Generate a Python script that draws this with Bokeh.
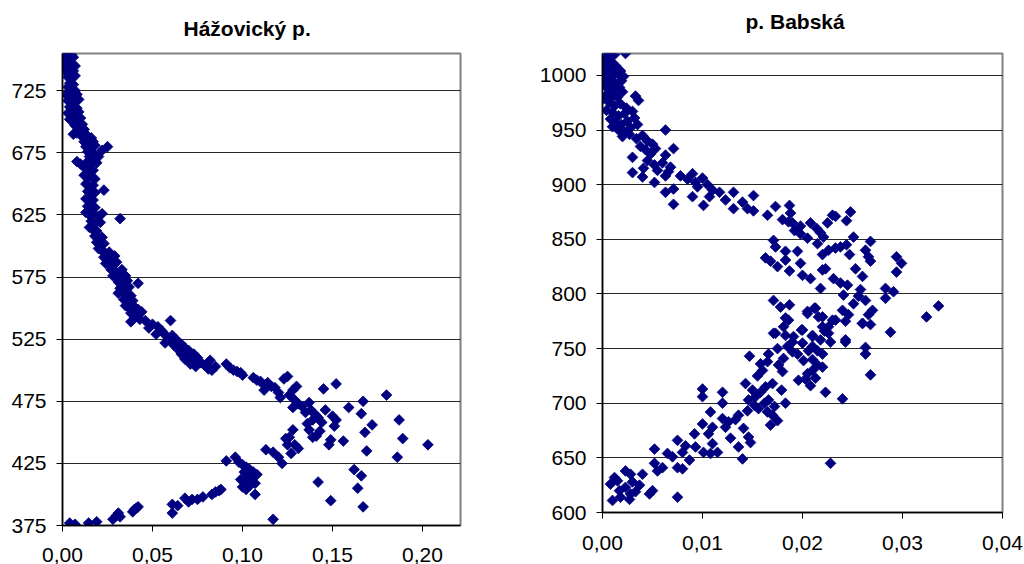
import numpy as np
from bokeh.plotting import figure
from bokeh.models import FixedTicker, Range1d, Title
from bokeh.embed import file_html
from bokeh.resources import INLINE

# ---------------- data: Hážovický p. ----------------
haz_pts = [
 (0.001,754),(0.003,754),(0.005,754),(0.002,752),(0.004,751),(0.006,752),(0.000,748),(0.002,748),(0.004,747),
 (0.001,745),(0.003,744),(0.005,743),(0.007,745),(0.002,740),(0.004,739),(0.006,741),(0.003,736),(0.005,735),
 (0.007,737),(0.004,731),(0.006,730),(0.003,728),(0.005,726),(0.007,725),(0.002,722),(0.004,721),(0.006,720),
 (0.008,722),(0.003,717),(0.005,715),(0.007,716),(0.009,718),(0.004,712),(0.006,710),(0.008,711),(0.003,707),
 (0.005,705),(0.007,706),(0.009,708),(0.004,702),(0.006,700),(0.008,701),(0.010,703),(0.007,697),(0.009,696),
 (0.011,698),(0.012,694),(0.010,693),(0.006,690),(0.008,691),(0.013,690),(0.011,688),(0.014,686),(0.016,687),
 (0.012,684),(0.015,683),(0.017,684),(0.013,680),(0.016,679),(0.018,681),(0.022,677),(0.025,680),(0.014,676),
 (0.017,675),(0.015,672),(0.018,671),(0.020,672),(0.008,668),(0.010,666),(0.014,668),(0.016,666),(0.019,667),
 (0.013,662),(0.015,660),(0.017,661),(0.012,657),(0.014,655),(0.016,656),(0.018,654),(0.013,650),(0.015,648),
 (0.017,649),(0.023,645),(0.014,644),(0.016,642),(0.018,643),(0.013,638),(0.015,636),(0.017,637),(0.014,632),
 (0.016,630),(0.018,631),(0.013,627),(0.015,625),(0.017,626),(0.020,624),(0.022,626),(0.032,622),(0.016,620),
 (0.018,618),(0.021,619),(0.015,615),(0.017,613),(0.019,612),(0.018,608),(0.020,606),(0.022,607),(0.019,603),
 (0.021,601),(0.023,602),(0.020,598),(0.022,596),(0.024,594),(0.026,595),(0.023,591),(0.025,589),(0.027,590),
 (0.029,592),(0.024,586),(0.026,585),(0.028,584),(0.030,587),(0.027,581),(0.029,580),(0.031,578),(0.033,581),
 (0.028,576),(0.030,575),(0.032,574),(0.035,576),(0.031,571),(0.033,570),(0.036,572),(0.042,570),(0.032,566),
 (0.034,565),(0.037,567),(0.031,562),(0.035,561),(0.038,560),(0.034,557),(0.036,555),(0.039,556),(0.035,552),
 (0.037,550),(0.040,551),(0.042,549),(0.038,546),(0.041,545),(0.044,547),(0.040,542),(0.043,541),(0.038,539),
 (0.046,540),(0.050,537),(0.053,535),(0.048,534),(0.055,532),(0.060,540),(0.052,529),(0.056,530),(0.058,527),
 (0.061,528),(0.057,522),(0.060,524),(0.063,525),(0.062,520),(0.066,521),(0.064,517),(0.068,518),(0.070,516),
 (0.066,513),(0.070,512),(0.073,513),(0.068,509),(0.072,508),(0.075,510),(0.077,506),(0.071,505),(0.074,503),
 (0.079,504),(0.082,508),(0.081,501),(0.083,500),(0.085,503),(0.091,505),(0.093,502),(0.095,500),(0.097,499),
 (0.099,498),(0.100,496),(0.106,494),(0.108,492),(0.110,491),(0.112,488),(0.114,490),(0.116,487),(0.112,484),
 (0.118,486),(0.120,482),(0.121,478),(0.123,493),(0.125,495),(0.126,480),(0.128,484),(0.130,487),(0.129,476),
 (0.131,473),(0.128,470),(0.133,471),(0.137,474),(0.135,466),(0.138,468),(0.140,465),(0.142,462),(0.139,460),
 (0.144,458),(0.145,485),(0.152,489),(0.146,468),(0.150,463),(0.152,460),(0.151,455),(0.159,470),(0.166,465),
 (0.167,475),(0.180,480),(0.187,460),(0.172,456),(0.168,450),(0.189,445),(0.203,440),(0.169,435),(0.186,430),
 (0.156,443),(0.149,444),(0.148,440),(0.141,447),(0.137,452),(0.139,446),(0.143,451),(0.136,457),(0.128,452),
 (0.126,446),(0.129,440),(0.131,437),(0.127,433),(0.125,440),(0.124,445),(0.113,436),(0.117,434),(0.120,430),
 (0.122,425),(0.091,427),(0.096,430),(0.098,426),(0.100,424),(0.102,422),(0.104,420),(0.106,418),(0.108,416),
 (0.101,418),(0.103,415),(0.105,413),(0.099,412),(0.101,410),(0.103,408),(0.105,411),(0.107,409),(0.100,406),
 (0.102,404),(0.104,407),(0.107,400),(0.117,380),(0.142,410),(0.149,395),(0.162,420),(0.166,415),(0.164,405),
 (0.167,390),
 (0.004,377),(0.007,376),(0.0145,377),(0.019,378),(0.028,380),(0.030,383),(0.031,385),(0.032,382),(0.039,386),
 (0.040,388),(0.041,389),(0.042,390),(0.061,385),(0.061,392),(0.064,391),(0.068,397),(0.070,394),(0.072,396),
 (0.075,396),(0.078,398),(0.083,400),(0.085,402),(0.087,403),(0.088,404),
]
haz_x = [p[0] for p in haz_pts]
haz_y = [p[1] for p in haz_pts]

# ---------------- data: p. Babská ----------------
bab_pts = [
 (0.0002,1015),(0.0005,1018),(0.0008,1020),(0.0012,1019),(0.0023,1020),
 (0.0001,1010),(0.0004,1012),(0.0007,1013),(0.001,1011),(0.0013,1009),
 (0.0002,1005),(0.0005,1006),(0.0009,1004),(0.0013,1003),(0.0018,1004),
 (0.0001,1000),(0.0004,999),(0.0008,998),(0.0011,1000),(0.0016,1001),(0.0021,999),
 (0.0002,995),(0.0006,993),(0.001,994),(0.0014,992),(0.0019,995),
 (0.0003,990),(0.0008,988),(0.0012,986),(0.0017,989),(0.002,985),
 (0.0005,983),(0.001,981),(0.0015,980),(0.0033,981),(0.0036,977),
 (0.0,978),(0.0007,975),(0.0012,972),(0.0018,974),(0.0024,970),
 (0.0004,968),(0.001,966),(0.0016,963),(0.0022,965),(0.003,967),
 (0.0008,960),(0.0013,957),(0.0019,955),(0.0025,958),(0.0032,961),
 (0.001,953),(0.0016,950),(0.0022,948),(0.0028,952),(0.0035,955),(0.0063,950),
 (0.002,944),(0.0027,946),(0.0034,942),(0.004,945),(0.0045,940),(0.005,937),
 (0.0038,935),(0.0043,932),(0.0053,933),(0.0071,933),(0.003,925),(0.0048,928),(0.0063,927),
 (0.0045,922),(0.0052,918),(0.006,920),(0.0068,916),(0.0041,915),(0.0055,913),
 (0.003,911),(0.004,907),(0.0052,902),(0.0063,908),(0.0066,912),
 (0.0063,893),(0.0071,896),(0.0071,882),(0.0078,908),(0.0085,905),(0.0093,902),
 (0.009,910),(0.0095,898),(0.01,906),(0.0105,900),(0.011,895),(0.009,889),(0.0101,881),(0.0107,889),
 (0.0117,893),(0.0123,886),(0.0131,893),(0.0131,878),(0.014,884),(0.0151,890),(0.0145,878),(0.0151,876),
 (0.0165,872),(0.0173,880),
 (0.0187,881),(0.0188,874),(0.018,868),(0.019,865),(0.0198,862),(0.0186,866),
 (0.0192,858),(0.0198,855),(0.0205,851),(0.0208,865),(0.0214,860),(0.0218,856),(0.0221,852),(0.0215,846),
 (0.0225,865),(0.023,872),(0.0233,871),(0.0248,875),(0.0244,867),(0.0251,852),(0.0268,848),
 (0.0171,849),(0.0173,843),(0.0163,833),(0.0168,830),(0.0183,839),(0.0183,831),(0.0195,839),
 (0.0175,825),(0.0187,821),(0.0198,828),(0.02,817),(0.0208,814),(0.022,836),(0.022,822),(0.0223,823),
 (0.0226,840),(0.0233,842),(0.0238,843),(0.0244,845),(0.0247,836),(0.0218,805),(0.0231,814),(0.0238,810),
 (0.0245,808),(0.0253,823),(0.026,816),(0.0241,799),(0.0258,804),(0.0256,798),(0.0251,791),
 (0.0263,840),(0.0266,834),(0.0268,830),(0.0294,834),(0.0299,828),(0.0294,820),
 (0.0283,805),(0.0291,802),(0.0283,796),(0.0263,794),
 (0.0171,794),(0.0178,788),(0.0187,790),(0.0183,778),(0.0181,770),(0.0171,764),(0.0191,761),(0.02,767),
 (0.0205,784),(0.0212,787),(0.0216,779),(0.021,762),(0.022,770),(0.0226,764),(0.023,776),(0.024,785),
 (0.0246,781),(0.0243,775),(0.026,773),(0.0268,772),(0.027,785),(0.0266,781),(0.0288,765),(0.0324,779),
 (0.0336,789),(0.0243,758),
 (0.0008,626),(0.0012,632),(0.001,611),(0.0018,614),(0.0023,638),(0.0028,635),(0.003,628),(0.0037,625),
 (0.004,635),(0.0027,612),(0.0017,620),(0.0023,623),(0.0033,619),(0.0015,629),(0.0028,617),
 (0.0047,617),(0.005,620),(0.0052,658),(0.0052,645),(0.0055,638),(0.006,641),
 (0.0065,654),(0.007,651),(0.0075,666),(0.0075,641),(0.008,640),(0.008,655),(0.0087,648),(0.0083,661),
 (0.0092,672),(0.0093,660),(0.01,681),(0.0101,655),(0.01,713),(0.01,706),
 (0.0108,692),(0.011,678),(0.0106,672),(0.011,663),(0.0108,654),(0.0115,655),(0.012,710),(0.012,700),
 (0.012,686),(0.0123,678),(0.0128,668),(0.0126,683),(0.0133,685),(0.0136,689),(0.0136,660),(0.014,649),
 (0.0141,677),(0.0145,693),(0.0146,669),(0.0146,703),(0.0148,664),(0.0143,718),(0.015,712),(0.0153,706),
 (0.0156,695),(0.0158,736),(0.0163,715),(0.0166,703),(0.017,689),(0.0168,680),(0.0175,684),
 (0.0147,743),(0.0166,745),(0.017,718),(0.0179,712),(0.0183,700),(0.0173,764),(0.0183,762),(0.0176,735),
 (0.018,729),(0.0181,741),(0.019,747),(0.019,756),(0.0186,776),(0.0199,767),(0.0205,782),(0.0213,787),
 (0.022,779),(0.021,761),(0.0206,748),
 (0.0196,721),(0.0203,722),(0.0208,716),(0.0201,739),(0.021,730),(0.022,733),(0.0223,710),(0.024,704),
 (0.0226,770),(0.0228,756),(0.0233,776),(0.0243,756),(0.026,773),(0.0263,751),(0.0263,745),
 (0.0268,726),(0.0228,645),(0.0075,614),
 (0.0155,725),(0.016,730),(0.0165,738),(0.0175,750),(0.0185,752),(0.0195,745),(0.02,755),(0.021,752),
 (0.0215,748),(0.021,740),(0.0215,735),(0.0205,727),(0.0213,723),(0.022,745),(0.0218,758),(0.0222,766),
 (0.0158,710),(0.0162,700),(0.0165,692),(0.0152,698),(0.0172,697),
]
bab_x = [p[0] for p in bab_pts]
bab_y = [p[1] for p in bab_pts]

# ---------------- ticks ----------------
haz_xticks = [0.0, 0.05, 0.10, 0.15, 0.20]
haz_xlabels = ["0,00", "0,05", "0,10", "0,15", "0,20"]
haz_yticks = [375, 425, 475, 525, 575, 625, 675, 725]
bab_xticks = [0.0, 0.01, 0.02, 0.03, 0.04]
bab_xlabels = ["0,00", "0,01", "0,02", "0,03", "0,04"]
bab_yticks = [600, 650, 700, 750, 800, 850, 900, 950, 1000]

FONT = "Liberation Sans"
NAVY = "#000080"


def make(title, xs, ys, xr, yr, xticks, xlabels, yticks, width, height, ml, mr, mb,
         xstand, t_offset, t_standoff, spacer=None):
    p = figure(width=width, height=height, x_range=Range1d(*xr), y_range=Range1d(*yr),
               output_backend="svg", toolbar_location=None, title=title,
               min_border_left=ml, min_border_right=mr, min_border_top=53,
               min_border_bottom=mb)
    p.background_fill_color = "white"
    p.border_fill_color = "white"
    p.outline_line_color = "#808080"
    p.outline_line_width = 2
    p.title.text_font = FONT
    p.title.text_font_size = "21px"
    p.title.text_font_style = "bold"
    p.title.text_color = "black"
    p.title.align = "left"
    p.title.offset = t_offset
    p.title.standoff = t_standoff
    if spacer is not None:
        # a blank band between frame and title lifts the title a little higher
        p.add_layout(Title(text=" ", text_font=FONT, text_font_size="10px",
                           standoff=spacer), "above")

    p.xgrid.visible = False
    p.ygrid.grid_line_color = "black"
    p.ygrid.grid_line_width = 1
    p.ygrid.grid_line_alpha = 0.85

    p.xaxis.ticker = FixedTicker(ticks=xticks, minor_ticks=[])
    p.xaxis.major_label_overrides = {t: l for t, l in zip(xticks, xlabels)}
    p.yaxis.ticker = FixedTicker(ticks=yticks, minor_ticks=[])
    for ax in (p.xaxis, p.yaxis):
        ax.axis_line_color = "black"
        ax.axis_line_width = 1.5
        ax.major_tick_line_color = "black"
        ax.major_tick_out = 6
        ax.major_tick_in = 0
        ax.minor_tick_line_color = None
        ax.major_label_text_font = FONT
        ax.major_label_text_font_size = "21px"
        ax.major_label_text_color = "black"
    p.yaxis.major_label_standoff = 10
    p.xaxis.major_label_standoff = xstand

    p.scatter(xs, ys, marker="square", size=7.6, angle=np.pi / 4,
              fill_color=NAVY, line_color=NAVY, line_width=0.8)
    return p


p1 = make("Hážovický p.", haz_x, haz_y, (0, 0.2211), (375, 755),
          haz_xticks, haz_xlabels, haz_yticks, 520, 580, 62, 60, 55, 16, 121, 27)
p2 = make("p. Babská", bab_x, bab_y, (0, 0.04), (600, 1020),
          bab_xticks, bab_xlabels, bab_yticks, 504, 564, 82, 22, 52, 17, 143, 8, spacer=4)

# place the two independent plots side by side (no frame alignment between them)
TEMPLATE = """
{% block postamble %}
<style>
  html, body { overflow: hidden !important; }
  body { display: flex !important; flex-direction: row; align-items: flex-start; }
</style>
{% endblock %}
"""

open("out.html", "w").write(file_html([p1, p2], INLINE, template=TEMPLATE))
